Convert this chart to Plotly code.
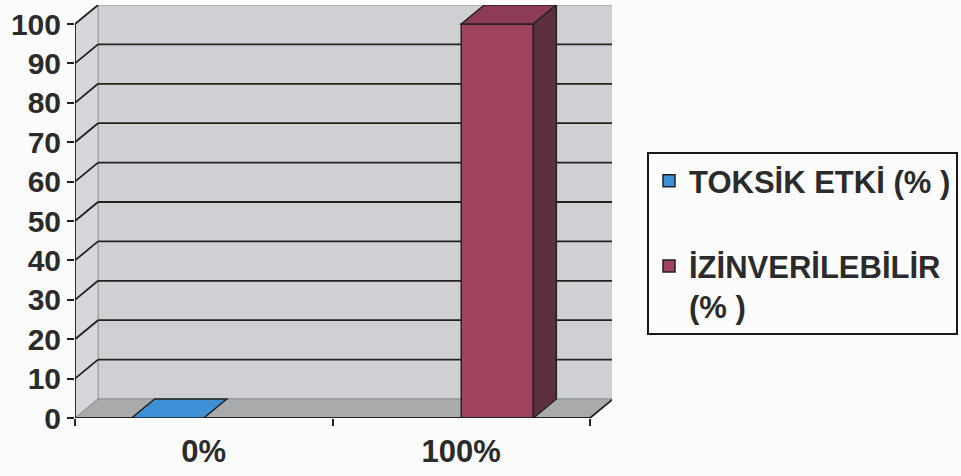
import plotly.graph_objects as go

# ---- data ----
categories = ["0%", "100%"]
series_names = ["TOKSİK ETKİ (% )", "İZİNVERİLEBİLİR<br>(% )"]
toksik_etki = [0, None]
izinverilebilir = [None, 100]
y_ticks = [0, 10, 20, 30, 40, 50, 60, 70, 80, 90, 100]

series_values = [toksik_etki, izinverilebilir]
front_colors = ["#3d8fd6", "#a0435f"]
top_colors = ["#3d8fd6", "#8d3b57"]
side_colors = ["#2a6aa8", "#5d3040"]

# ---- layout geometry ----
W, H = 961, 476
L, R, T, B = 75, 612, 5, 418
PX_X = 257.5      # pixels per category
PX_Y = 3.94       # pixels per value unit
DEPTH_X, DEPTH_Y = 23, 19
dx = DEPTH_X / PX_X
dy = DEPTH_Y / PX_Y
x_range = [-0.5, -0.5 + (R - L) / PX_X]
y_range = [0, (B - T) / PX_Y]
BARGAP = 0.44
bar_w = (1 - BARGAP) / 2
ymax = max(y_ticks)
xl, xr = -0.5, len(categories) - 0.5

LINE = "#222222"
WALL = "#cfd0d4"
FLOOR = "#a9aaac"
TEXT = "#2b2b2b"


def poly(pts):
    return "M " + " L ".join(f"{x},{y}" for x, y in pts) + " Z"


shapes = []
# back wall
shapes.append(dict(type="rect", xref="x", yref="y", x0=xl + dx, x1=xr + dx, y0=dy, y1=ymax + dy,
                   fillcolor=WALL, line=dict(color="#9a9a9a", width=1), layer="below"))
# left wall
shapes.append(dict(type="path", xref="x", yref="y",
                   path=poly([(xl, 0), (xl, ymax), (xl + dx, ymax + dy), (xl + dx, dy)]),
                   fillcolor="#d6d7da", line=dict(color="#9a9a9a", width=1), layer="below"))
# floor
shapes.append(dict(type="path", xref="x", yref="y",
                   path=poly([(xl, 0), (xr, 0), (xr + dx, dy), (xl + dx, dy)]),
                   fillcolor=FLOOR, line=dict(color="#8a8a8a", width=1), layer="below"))
# gridlines on back wall + diagonals on left wall
for v in y_ticks[1:]:
    if v < ymax:
        shapes.append(dict(type="line", xref="x", yref="y", x0=xl + dx, x1=xr + dx, y0=v + dy, y1=v + dy,
                           line=dict(color=LINE, width=1.8), layer="below"))
    shapes.append(dict(type="line", xref="x", yref="y", x0=xl, x1=xl + dx, y0=v, y1=v + dy,
                       line=dict(color=LINE, width=1.8), layer="below"))
# floor right diagonal
shapes.append(dict(type="line", xref="x", yref="y", x0=xr, x1=xr + dx, y0=0, y1=dy,
                   line=dict(color=LINE, width=1.8), layer="above"))
# axis lines
shapes.append(dict(type="line", xref="x", yref="y", x0=xl, x1=xl, y0=0, y1=ymax,
                   line=dict(color=LINE, width=1.8), layer="above"))
shapes.append(dict(type="line", xref="x", yref="y", x0=xl, x1=xr, y0=0, y1=0,
                   line=dict(color=LINE, width=1.8), layer="above"))

# 3D faces of bars
for i, vals in enumerate(series_values):
    for j, v in enumerate(vals):
        if v is None:
            continue
        x0 = j - (1 - BARGAP) / 2 + i * bar_w
        x1 = x0 + bar_w
        shapes.append(dict(type="path", xref="x", yref="y",
                           path=poly([(x0, v), (x1, v), (x1 + dx, v + dy), (x0 + dx, v + dy)]),
                           fillcolor=top_colors[i], line=dict(color=LINE, width=1.5), layer="above"))
        if v > 0:
            shapes.append(dict(type="path", xref="x", yref="y",
                               path=poly([(x1, 0), (x1, v), (x1 + dx, v + dy), (x1 + dx, dy)]),
                               fillcolor=side_colors[i], line=dict(color=LINE, width=1.5), layer="above"))

fig = go.Figure()
for i, vals in enumerate(series_values):
    fig.add_trace(go.Bar(
        x=categories, y=vals, name=series_names[i],
        marker=dict(color=front_colors[i], line=dict(color=LINE, width=1.5)),
        legendgroup=f"g{i}",
    ))

FONT = "Liberation Sans, Arial, sans-serif"
fig.update_layout(
    width=W, height=H,
    margin=dict(l=L, r=W - R, t=T, b=H - B, autoexpand=False),
    paper_bgcolor="#fcfcfd", plot_bgcolor="rgba(0,0,0,0)",
    barmode="group", bargap=BARGAP, bargroupgap=0,
    shapes=shapes,
    font=dict(family=FONT, color=TEXT, size=30),
    showlegend=True,
    legend=dict(
        x=(647 - L) / (R - L), xanchor="left",
        y=(B - 152) / (B - T), yanchor="top",
        bordercolor="#1a1a1a", borderwidth=2, bgcolor="rgba(0,0,0,0)",
        font=dict(family=FONT, size=31, color=TEXT, weight="bold"),
        traceorder="grouped", tracegroupgap=42, valign="top",
        itemwidth=30,
    ),
    xaxis=dict(
        type="category", range=x_range, tickson="boundaries",
        ticks="outside", ticklen=7, tickwidth=1.8, tickcolor=LINE,
        showline=False, showgrid=False, zeroline=False,
        ticklabelstandoff=12,
        tickfont=dict(family=FONT, size=31, color=TEXT, weight="bold"),
        fixedrange=True,
    ),
    yaxis=dict(
        range=y_range, tickvals=y_ticks,
        ticks="outside", ticklen=7, tickwidth=1.8, tickcolor=LINE,
        showline=False, showgrid=False, zeroline=False,
        tickfont=dict(family=FONT, size=30, color=TEXT, weight="bold"),
        fixedrange=True,
    ),
)

fig.write_html("out.html")
